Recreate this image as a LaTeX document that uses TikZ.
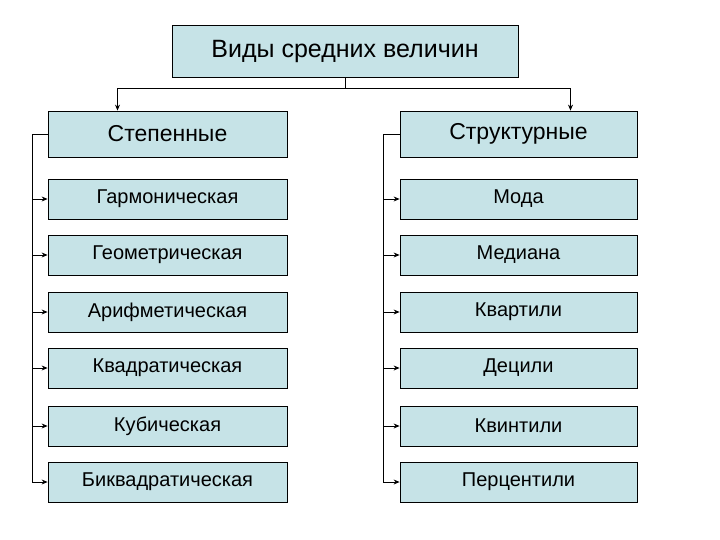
\documentclass[tikz,border=0pt]{standalone}
\usepackage{fontspec}
\setmainfont{Liberation Sans}
\usetikzlibrary{arrows.meta, positioning}
\definecolor{boxblue}{HTML}{C6E3E7}
\tikzset{
  box/.style={draw, thick, fill=boxblue, minimum height=40pt, inner sep=0pt},
  leftbox/.style={box, minimum width=239pt, font=\fontsize{20}{22}\selectfont},
  rightbox/.style={box, minimum width=237pt, font=\fontsize{20}{22}\selectfont},
  link/.style={thick, -{Stealth[length=6pt, width=5pt]}}
}
\begin{document}
\begin{tikzpicture}[x=1pt, y=-1pt]
\useasboundingbox (0,0) rectangle (720,540);
\node[box, minimum width=346pt, minimum height=52pt, font=\fontsize{25}{28}\selectfont] (title) at (345,51) {Виды средних величин};
\node[leftbox, minimum height=46pt, font=\fontsize{23}{26}\selectfont] (l0) at (167.5,134) {Степенные};
\node[rightbox, minimum height=46pt, font=\fontsize{23}{26}\selectfont] (r0) at (518.5,134) {Структурные};
% строки
\foreach \name/\y/\ltext/\rtext in {1/199/Гармоническая/Мода, 2/255/Геометрическая/Медиана, 3/312/Арифметическая/Квартили, 4/368/Квадратическая/Децили, 5/426/Кубическая/Квинтили, 6/482/Биквадратическая/Перцентили} {
  \node[leftbox] (l\name) at (167.5,\y) {\ltext};
  \node[rightbox] (r\name) at (518.5,\y) {\rtext};
}
% верхние связи
\coordinate (split) at (345,88);
\draw (title.south) -- (split);
\draw[link] (split) -| ([xshift=-50pt]l0.north);
\draw[link] (split) -| ([xshift=52pt]r0.north);
% боковые связи
\coordinate (lspine) at (32,134);
\coordinate (rspine) at (383,134);
\draw[thick] (l0.west) -- (lspine) -- (lspine |- l6.west);
\draw[thick] (r0.west) -- (rspine) -- (rspine |- r6.west);
\foreach \i in {1,...,6} {
  \draw[link] (lspine |- l\i.west) -- (l\i.west);
  \draw[link] (rspine |- r\i.west) -- (r\i.west);
}
\end{tikzpicture}
\end{document}
